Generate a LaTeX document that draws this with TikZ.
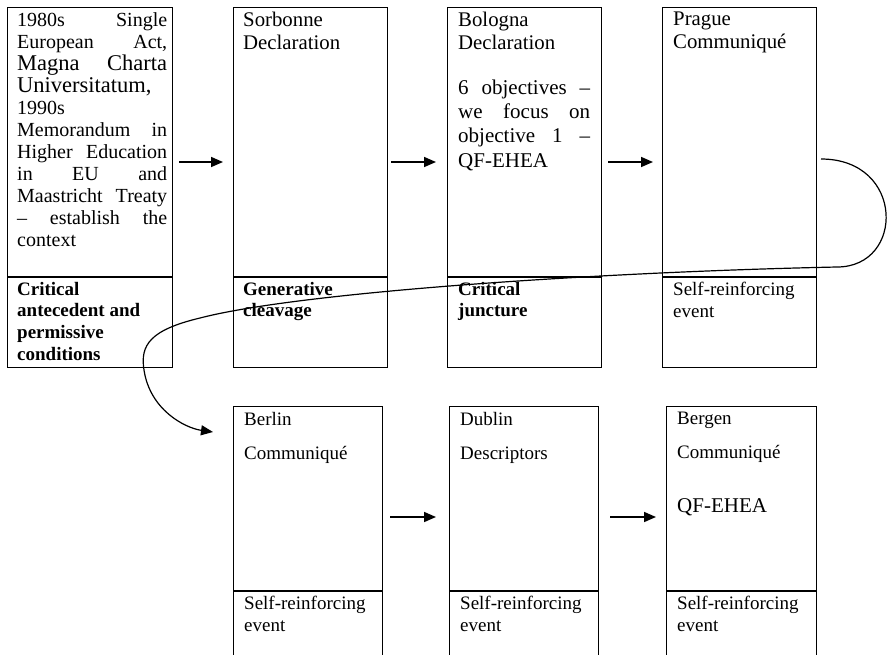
\documentclass[tikz,border=0pt]{standalone}
\usepackage{fontspec}
\setmainfont{Liberation Serif}
\usetikzlibrary{arrows.meta}
\newcommand\fsN{\fontsize{19}{23}\selectfont}
\newcommand\fsT{\fontsize{20.8}{23}\selectfont}
\newcommand\fsB{\fontsize{19}{21.6}\selectfont}
\newcommand\fsA{\fontsize{20}{22}\selectfont}
\newcommand\fsL{\fontsize{22.5}{23}\selectfont}
\newcommand\fsM{\fontsize{21}{24}\selectfont}
\begin{document}
\begin{tikzpicture}[x=1pt,y=-1pt,
  box/.style={draw, line width=1.1pt, inner sep=0pt, anchor=north west},
  txt/.style={inner sep=0pt, anchor=north west, align=left, font=\fsN},
  lbl/.style={inner sep=0pt, anchor=north west, align=left, font=\fsB},
  arr/.style={line width=1.6pt, -{Triangle[length=12pt,width=10pt]}},
  crv/.style={line width=1.2pt, -{Triangle[length=12pt,width=10pt]}}]
\useasboundingbox (0,0) rectangle (889,654);
\clip (0,0) rectangle (889,654);
% top row boxes
\node[box, minimum width=165pt, minimum height=360pt] (b1) at (7,7) {};
\node[box, minimum width=154pt, minimum height=360pt] (b2) at (233,7) {};
\node[box, minimum width=154pt, minimum height=360pt] (b3) at (447,7) {};
\node[box, minimum width=154pt, minimum height=360pt] (b4) at (662,7) {};
% bottom row boxes
\node[box, minimum width=149pt, minimum height=270pt] (b5) at (233,406) {};
\node[box, minimum width=149pt, minimum height=270pt] (b6) at (449,406) {};
\node[box, minimum width=150pt, minimum height=270pt] (b7) at (666,406) {};
% dividers
\foreach \b in {b1,b2,b3,b4}{\draw[line width=1.1pt] (\b.west |- 0,277) -- (\b.east |- 0,277);}
\foreach \b in {b5,b6,b7}{\draw[line width=1.1pt] (\b.west |- 0,591) -- (\b.east |- 0,591);}
% texts top row
\node[txt, font=\fsA] (t1) at (17,12) {%
\makebox[150pt][s]{1980s Single}\\
\makebox[150pt][s]{European Act,}\\
{\fsL\makebox[150pt][s]{Magna Charta}}\\
{\fsL Universitatum,}\\
1990s\\
\makebox[150pt][s]{Memorandum in}\\
\makebox[150pt][s]{Higher Education}\\
\makebox[150pt][s]{in EU and}\\
\makebox[150pt][s]{Maastricht Treaty}\\
\makebox[150pt][s]{– establish the}\\
context};
\node[txt, font=\fsT] (t2) at (243,12) {Sorbonne\\Declaration};
\node[txt, font=\fsM] (t3) at (458,12) {%
{\fsT Bologna}\\[-1pt]
{\fsT Declaration}\\[21pt]
\makebox[132pt][s]{6 objectives –}\\
\makebox[132pt][s]{we focus on}\\
\makebox[132pt][s]{objective 1 –}\\[1pt]
QF-EHEA};
\node[txt, font=\fsT] (t4) at (673,12) {Prague\\Communiqué};
% labels top row
\node[lbl, font=\fsB\bfseries] (l1) at (17,282) {Critical\\antecedent and\\permissive\\conditions};
\node[lbl, font=\fsB\bfseries] (l2) at (243,282) {Generative\\cleavage};
\node[lbl, font=\fsB\bfseries] (l3) at (458,282) {Critical\\juncture};
\node[lbl] (l4) at (673,282) {Self-reinforcing\\event};
% texts bottom row
\node[txt] (t5) at (244,412) {Berlin\\[11pt]Communiqué};
\node[txt] (t6) at (460,412) {Dublin\\[11pt]Descriptors};
\node[txt] (t7) at (677,412) {Bergen\\[11pt]Communiqué\\[31pt]{\fsM QF-EHEA}};
% labels bottom row
\node[lbl] (l5) at (244,596) {Self-reinforcing\\event};
\node[lbl] (l6) at (460,596) {Self-reinforcing\\event};
\node[lbl] (l7) at (677,596) {Self-reinforcing\\event};
% arrows
\draw[arr, shorten <=6pt, shorten >=10pt] (b1.east |- 0,162) -- (b2.west |- 0,162);
\draw[arr, shorten <=3pt, shorten >=11pt] (b2.east |- 0,162) -- (b3.west |- 0,162);
\draw[arr, shorten <=6pt, shorten >=9pt] (b3.east |- 0,162) -- (b4.west |- 0,162);
\draw[arr, shorten <=7pt, shorten >=13pt] (b5.east |- 0,517) -- (b6.west |- 0,517);
\draw[arr, shorten <=11pt, shorten >=10pt] (b6.east |- 0,517) -- (b7.west |- 0,517);
% loop connector
\coordinate (cs) at (821,159);
\coordinate (ce) at (213,432);
\draw[crv] (cs) .. controls (905,159) and (905,267) .. (837,267)
  .. controls (600,272) and (300,292) .. (200,318)
  .. controls (150,330) and (140,345) .. (144,370)
  .. controls (150,410) and (185,428) .. (ce);
\end{tikzpicture}
\end{document}
